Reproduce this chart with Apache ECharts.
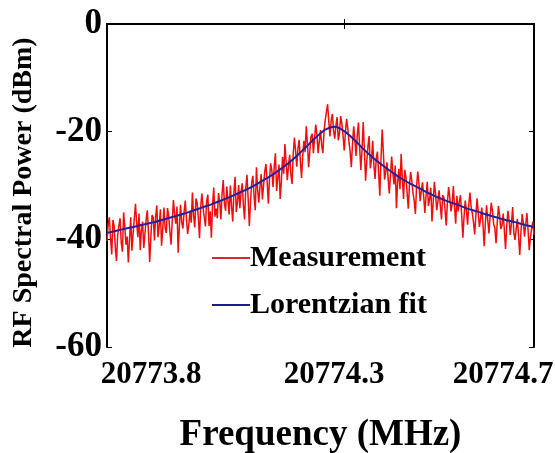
<!DOCTYPE html>
<html>
<head>
<meta charset="utf-8">
<script src="https://cdn.jsdelivr.net/npm/echarts@6/dist/echarts.min.js"></script>
<style>
  html, body { margin: 0; padding: 0; background: #fff; }
  #chart { width: 555px; height: 453px; }
</style>
</head>
<body>
<div id="chart"></div>
<script>
// Frequency sampling of the spectrum (MHz)
const freqStart = 20773.8;
const measStep = 0.0025;
const fitStep = 0.02;

// Measured RF spectral power (dBm), one value per measStep
const measurement = [
  -40.3, -37.2, -35.9, -39.8, -42.8, -36.4, -37.5, -41.5,
  -44.0, -39.2, -37.5, -36.1, -40.6, -42.3, -35.0, -37.6,
  -41.0, -39.5, -44.3, -40.0, -35.9, -42.1, -38.9, -36.2,
  -33.4, -36.8, -39.6, -35.2, -42.0, -38.4, -36.7, -41.6,
  -39.0, -36.3, -34.6, -38.9, -44.2, -39.4, -35.5, -35.9,
  -40.2, -35.8, -33.7, -39.6, -37.5, -34.4, -41.2, -38.1,
  -34.1, -37.9, -38.8, -34.2, -35.6, -38.5, -41.0, -36.6,
  -32.7, -35.4, -37.1, -33.9, -42.5, -37.7, -33.6, -36.8,
  -38.0, -34.9, -32.8, -36.3, -39.0, -37.2, -34.7, -36.9,
  -31.3, -35.6, -37.8, -32.4, -33.2, -36.0, -39.8, -33.9,
  -31.5, -34.1, -35.9, -37.6, -32.9, -31.7, -37.5, -34.8,
  -39.7, -33.5, -30.4, -35.8, -34.3, -36.1, -31.4, -33.0,
  -36.3, -31.6, -29.0, -33.4, -34.7, -30.2, -32.8, -35.4,
  -30.0, -33.8, -36.7, -31.2, -28.4, -34.9, -33.1, -29.9,
  -34.2, -31.3, -29.6, -33.7, -36.3, -30.5, -28.0, -32.4,
  -37.5, -32.9, -29.4, -28.2, -32.0, -34.6, -26.6, -30.8,
  -33.2, -30.1, -27.9, -32.6, -30.0, -27.4, -26.0, -29.2,
  -33.4, -28.7, -25.9, -27.3, -30.3, -26.5, -24.0, -31.0,
  -28.6, -26.1, -32.5, -29.3, -24.7, -27.8, -22.3, -25.6,
  -29.0, -26.4, -24.3, -27.9, -29.7, -24.2, -21.1, -23.6,
  -26.5, -23.1, -21.5, -25.4, -28.6, -24.6, -21.7, -23.8,
  -19.0, -22.3, -26.6, -23.5, -20.9, -20.4, -24.0, -21.2,
  -18.7, -20.6, -24.0, -21.8, -19.7, -22.5, -24.0, -19.9,
  -17.8, -16.3, -14.9, -18.2, -20.9, -17.9, -16.7, -19.8,
  -21.3, -18.9, -17.3, -21.6, -20.3, -17.1, -18.5, -20.7,
  -23.5, -20.2, -17.6, -19.4, -21.9, -23.8, -26.6, -22.1,
  -19.0, -21.6, -24.5, -20.7, -18.3, -22.9, -27.1, -23.4,
  -18.2, -23.3, -29.1, -25.6, -22.7, -20.8, -26.8, -25.2,
  -21.7, -26.2, -28.8, -24.9, -23.7, -27.6, -31.9, -25.1,
  -19.6, -23.8, -28.9, -27.4, -25.7, -25.8, -31.5, -28.0,
  -24.6, -27.7, -29.8, -26.3, -34.2, -29.5, -26.9, -30.7,
  -24.1, -28.6, -32.5, -27.1, -28.4, -31.3, -34.3, -29.9,
  -27.5, -29.2, -31.4, -32.8, -35.3, -30.1, -27.4, -29.6,
  -32.9, -31.1, -29.4, -32.0, -35.1, -31.9, -29.3, -33.8,
  -32.5, -30.4, -36.7, -33.2, -29.3, -31.6, -34.6, -32.9,
  -30.9, -33.7, -36.3, -31.8, -32.2, -34.5, -37.4, -33.1,
  -30.3, -32.2, -34.8, -33.5, -30.1, -34.0, -37.1, -31.9,
  -34.8, -33.0, -31.8, -35.4, -39.7, -35.9, -32.8, -34.6,
  -37.3, -33.6, -31.3, -34.0, -35.2, -36.8, -39.1, -35.5,
  -32.4, -35.0, -37.7, -36.1, -34.1, -37.3, -41.3, -36.9,
  -33.7, -36.4, -38.9, -35.7, -33.2, -34.8, -37.2, -37.9,
  -40.7, -36.9, -33.8, -35.5, -38.1, -37.4, -35.2, -38.3,
  -41.8, -37.6, -34.7, -36.4, -39.2, -37.0, -34.0, -38.8,
  -40.1, -38.0, -36.2, -39.4, -42.9, -38.6, -35.3, -36.9,
  -39.5, -37.2, -35.1, -38.3, -42.0, -39.6, -38.0, -36.7,
  -39.2
];

// Lorentzian fit (dBm), one value per fitStep
const lorentzFit = [
  -38.8, -38.4, -38.0, -37.6, -37.2, -36.8, -36.3, -35.8, -35.3, -34.7,
  -34.1, -33.5, -32.8, -32.1, -31.3, -30.5, -29.5, -28.5, -27.3, -26.0,
  -24.5, -22.8, -21.1, -19.6, -19.1, -19.9, -21.4, -23.2, -24.8, -26.2,
  -27.5, -28.7, -29.7, -30.6, -31.5, -32.3, -33.0, -33.6, -34.3, -34.8,
  -35.4, -35.9, -36.4, -36.8, -37.3, -37.7
];

const xTickLabels = [20773.8, 20774.3, 20774.7];
const seriesNames = ['Measurement', 'Lorentzian fit'];

const toPairs = (vals, step) =>
  vals.map((v, i) => [+(freqStart + i * step).toFixed(5), v]);

const FONT = "'Liberation Serif', 'Times New Roman', serif";

const chart = echarts.init(document.getElementById('chart'), null, { renderer: 'canvas' });

chart.setOption({
  animation: false,
  backgroundColor: '#ffffff',
  grid: { left: 107, right: 21, top: 24, bottom: 106, containLabel: false, outerBoundsMode: 'none' },
  legend: {
    orient: 'vertical',
    left: 207,
    top: 238,
    icon: 'rect',
    itemWidth: 38,
    itemHeight: 2,
    itemGap: 17,
    data: seriesNames,
    textStyle: {
      fontFamily: FONT, fontWeight: 'bold', fontSize: 30, color: '#000',
      padding: [0, 0, 0, -5]
    }
  },
  xAxis: [{
    type: 'value',
    min: 20773.8,
    max: 20774.7,
    name: 'Frequency (MHz)',
    nameLocation: 'middle',
    nameGap: 70,
    nameTextStyle: { fontFamily: FONT, fontWeight: 'bold', fontSize: 37, color: '#000' },
    axisLine: { show: true, lineStyle: { color: '#000', width: 2 } },
    axisTick: { show: true, inside: true, length: 5, customValues: [20774.3], lineStyle: { color: '#000', width: 1 } },
    splitLine: { show: false },
    axisLabel: {
      customValues: xTickLabels,
      margin: 12,
      fontFamily: FONT, fontWeight: 'bold', fontSize: 31, color: '#000',
      formatter: function (v) {
        const s = v.toFixed(1);
        if (Math.abs(v - xTickLabels[0]) < 1e-6) return '{first|' + s + '}';
        if (Math.abs(v - xTickLabels[2]) < 1e-6) return '{last|' + s + '}';
        return '{mid|' + s + '}';
      },
      rich: {
        first: { fontFamily: FONT, fontWeight: 'bold', fontSize: 31, color: '#000', padding: [0, 0, 0, 88] },
        mid: { fontFamily: FONT, fontWeight: 'bold', fontSize: 31, color: '#000', padding: [0, 20, 0, 0] },
        last: { fontFamily: FONT, fontWeight: 'bold', fontSize: 31, color: '#000', padding: [0, 62, 0, 0] }
      }
    }
  }, {
    type: 'value',
    position: 'top',
    min: 20773.8,
    max: 20774.7,
    axisLine: { show: true, lineStyle: { color: '#000', width: 2 } },
    axisTick: { show: true, inside: true, length: 5, customValues: [20774.3], lineStyle: { color: '#000', width: 1 } },
    axisLabel: { show: false },
    splitLine: { show: false }
  }],
  yAxis: [{
    type: 'value',
    min: -60,
    max: 0,
    interval: 20,
    name: 'RF Spectral Power (dBm)',
    nameLocation: 'middle',
    nameGap: 69,
    nameRotate: 90,
    nameTextStyle: { fontFamily: FONT, fontWeight: 'bold', fontSize: 28, color: '#000', padding: [0, 0, 0, -14] },
    axisLine: { show: true, lineStyle: { color: '#000', width: 2 } },
    axisTick: { show: true, inside: true, length: 5, lineStyle: { color: '#000', width: 1 } },
    splitLine: { show: false },
    axisLabel: {
      margin: 5,
      fontFamily: FONT, fontWeight: 'bold', fontSize: 35, color: '#000',
      formatter: function (v) { return String(v); }
    }
  }, {
    type: 'value',
    position: 'right',
    min: -60,
    max: 0,
    interval: 20,
    axisLine: { show: true, lineStyle: { color: '#000', width: 2 } },
    axisTick: { show: true, inside: true, length: 5, lineStyle: { color: '#000', width: 1 } },
    axisLabel: { show: false },
    splitLine: { show: false }
  }],
  series: [{
    name: seriesNames[0],
    type: 'line',
    data: toPairs(measurement, measStep),
    symbol: 'none',
    showSymbol: false,
    lineStyle: { color: '#f20d0d', width: 1.5 },
    itemStyle: { color: '#d42a2a' },
    z: 2
  }, {
    name: seriesNames[1],
    type: 'line',
    data: toPairs(lorentzFit, fitStep),
    symbol: 'none',
    showSymbol: false,
    smooth: 0.3,
    lineStyle: { color: '#24209a', width: 2 },
    itemStyle: { color: '#1c1c8a' },
    z: 3
  }]
});
</script>
</body>
</html>
